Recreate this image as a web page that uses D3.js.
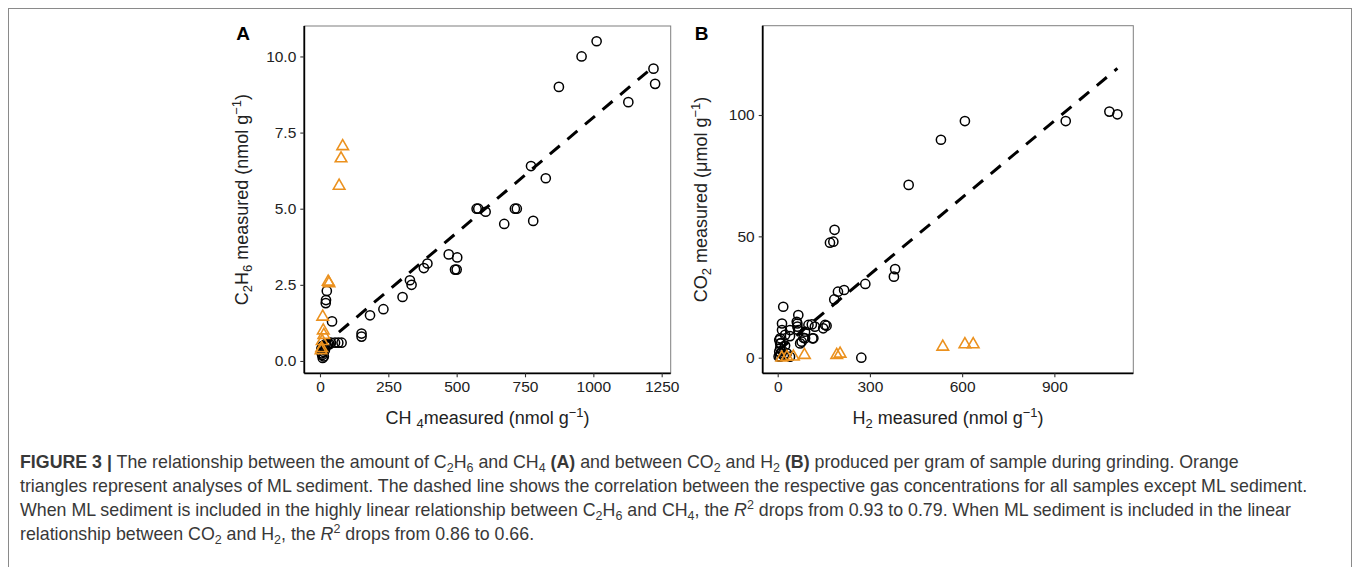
<!DOCTYPE html>
<html>
<head>
<meta charset="utf-8">
<script src="https://cdn.jsdelivr.net/npm/d3@7"></script>
<style>
  body { margin: 0; background: #fff; }
  text { font-family: "Liberation Sans", Arial, sans-serif; }
</style>
</head>
<body>
<svg id="mainsvg" width="1358" height="567"></svg>
<script>
// panel A: CH4 (x) vs C2H6 (y), pairs [x, y]
const aSamples = [
  [1012,10.5],[957,10.0],[1220,9.6],[1226,9.1],[874,9.0],[1128,8.5],[772,6.4],[826,6.0],
  [573,5.0],[579,5.0],[606,4.9],[713,5.0],[720,5.0],[674,4.5],[780,4.6],[471,3.5],[502,3.4],
  [494,3.0],[500,3.0],[380,3.05],[393,3.2],[329,2.65],[335,2.5],[302,2.1],[232,1.7],[183,1.5],
  [152,0.9],[152,0.8],[44,1.3],[55,0.6],[67,0.6],[79,0.6],[25,2.3],[22,2.0],[21,1.9],
  [10,0.5],[15,0.45],[20,0.55],[30,0.55],[40,0.6],[12,0.3],[8,0.2],[10,0.1],[14,0.15],
  [6,0.25],[18,0.35],[25,0.5],[35,0.55],[5,0.4]
];
const aSediment = [
  [83,7.05],[77,6.65],[70,5.75],[30,2.6],[33,2.55],[10,1.45],[12,1.0],[14,0.85],[8,0.65],[6,0.42],[4,0.35]
];
const aFit = [[5,0.46],[1226,9.71]];
const aXTicks = [0, 250, 500, 750, 1000, 1250];
const aYTicks = [0, 2.5, 5, 7.5, 10];

// panel B: H2 (x) vs CO2 (y)
const bSamples = [
  [1079,101.4],[1105,100.3],[937,97.5],[609,97.5],[531,89.8],[426,71.2],[185,52.7],[170,47.4],
  [181,47.8],[382,36.5],[378,33.4],[285,30.4],[216,27.9],[196,27.2],[184,24.0],[272,0],
  [18,21],[67,17.6],[62,14.8],[100,13.5],[121,12.8],[148,12.1],[154,13.5],[159,13.2],[111,13.7],
  [113,8],[89,10.7],[84,8.2],[73,5.9],[64,14.1],[64,12.8],[14,14.1],[14,11.4],[40,8.9],[5,7.3],
  [8,5.9],[24,9.4],[40,11.4],[67,11.4],[89,8],[78,6.6],[116,8],[8,8],[10,5.9],[8,3.9],[10,1.8],
  [8,0.4],[30,1.8],[40,0.4],[24,5],[3,0.5],[15,3],[20,0.8],[5,2.5]
];
const bSediment = [
  [537,4.5],[609,5.5],[636,5.5],[192,1.1],[203,1.6],[87,1.1],[51,0.4],[30,0.3],[13,0]
];
const bFit = [[3,3.0],[1105,119.2]];
const bXTicks = [0, 300, 600, 900];
const bYTicks = [0, 50, 100];

const svg = d3.select('#mainsvg');
const orange = '#EB911E';

// figure frame
svg.append('rect')
  .attr('x', 8.5).attr('y', 8.5).attr('width', 1343).attr('height', 600)
  .attr('fill', 'none').attr('stroke', '#8a8a8a').attr('stroke-width', 1);

// rich text: parts like {t}, {t, sub}, {t, sup}, {t, b}, {t, i}
function rich(t, parts, small, subDy, supDy) {
  let shift = 0;
  parts.forEach(p => {
    const s = t.append('tspan').text(p.t);
    let want = p.sub ? subDy : p.sup ? -supDy : 0;
    if (want !== shift) { s.attr('dy', want - shift); shift = want; }
    if (p.sub || p.sup) s.style('font-size', small);
    if (p.b) s.style('font-weight', 'bold');
    if (p.i) s.style('font-style', 'italic');
  });
}

function panel(cfg) {
  const g = svg.append('g');
  const x = d3.scaleLinear().domain(cfg.xDomain).range([cfg.left, cfg.right]);
  const y = d3.scaleLinear().domain(cfg.yDomain).range([cfg.bottom, cfg.top]);

  // panel border (top / right)
  g.append('rect')
    .attr('x', cfg.left).attr('y', cfg.top)
    .attr('width', cfg.right - cfg.left).attr('height', cfg.bottom - cfg.top)
    .attr('fill', 'none').attr('stroke', '#7f7f7f').attr('stroke-width', 1);

  const xAxis = g.append('g')
    .attr('transform', `translate(0, ${cfg.bottom})`)
    .call(d3.axisBottom(x).tickValues(cfg.xTicks).tickFormat(cfg.xFormat).tickSize(4).tickSizeOuter(0).tickPadding(4));
  const yAxis = g.append('g')
    .attr('transform', `translate(${cfg.left}, 0)`)
    .call(d3.axisLeft(y).tickValues(cfg.yTicks).tickFormat(cfg.yFormat).tickSize(4).tickSizeOuter(0).tickPadding(4));
  [xAxis, yAxis].forEach(a => {
    a.select('.domain').attr('stroke', '#000').attr('stroke-width', 1.8);
    a.selectAll('.tick line').attr('stroke', '#333').attr('stroke-width', 1.1);
    a.selectAll('.tick text').attr('fill', '#222').style('font-size', '15.5px')
      .style('font-family', '"Liberation Sans", Arial, sans-serif');
  });
  xAxis.select('.domain').attr('d', `M${cfg.left},0H${cfg.right}`);
  yAxis.select('.domain').attr('d', `M0,${cfg.bottom}V${cfg.top}`);

  // fit line
  g.append('path')
    .attr('d', d3.line().x(d => x(d[0])).y(d => y(d[1]))(cfg.fit))
    .attr('fill', 'none').attr('stroke', '#000').attr('stroke-width', 3)
    .attr('stroke-dasharray', '13,10');

  // samples
  g.selectAll('circle.pt').data(cfg.samples).join('circle')
    .attr('class', 'pt')
    .attr('cx', d => x(d[0])).attr('cy', d => y(d[1])).attr('r', 4.6)
    .attr('fill', 'none').attr('stroke', '#000').attr('stroke-width', 1.5);

  // ML sediment
  g.selectAll('path.tri').data(cfg.sediment).join('path')
    .attr('class', 'tri')
    .attr('d', d3.symbol(d3.symbolTriangle, 58))
    .attr('transform', d => `translate(${x(d[0])}, ${y(d[1])})`)
    .attr('fill', 'none').attr('stroke', orange).attr('stroke-width', 1.6);

  // panel letter
  g.append('text')
    .attr('x', cfg.left - 68).attr('y', 40)
    .style('font-size', '19px').style('font-weight', 'bold')
    .text(cfg.letter);

  const xt = g.append('text')
    .attr('x', (cfg.left + cfg.right) / 2).attr('y', 424)
    .attr('text-anchor', 'middle').attr('fill', '#222')
    .style('font-size', '18px');
  rich(xt, cfg.xTitle, '13px', 4, 7);

  const yt = g.append('text')
    .attr('transform', `translate(${cfg.left - 56}, ${(cfg.top + cfg.bottom) / 2}) rotate(-90)`)
    .attr('text-anchor', 'middle').attr('fill', '#222')
    .style('font-size', '18px');
  rich(yt, cfg.yTitle, '13px', 4, 7);
}

const perGram = [{t: ' (nmol g'}, {t: '\u22121', sup: 1}, {t: ')'}];

panel({
  letter: 'A',
  left: 304.3, right: 670.7, top: 26, bottom: 373.3,
  xDomain: [-57.4, 1283], yDomain: [-0.405, 11.0],
  xTicks: aXTicks, yTicks: aYTicks,
  xFormat: d3.format('d'), yFormat: d3.format('.1f'),
  samples: aSamples, sediment: aSediment, fit: aFit,
  xTitle: [{t: 'CH '}, {t: '4', sub: 1}, {t: 'measured'}, ...perGram],
  yTitle: [{t: 'C'}, {t: '2', sub: 1}, {t: 'H'}, {t: '6', sub: 1}, {t: ' measured'}, ...perGram]
});

panel({
  letter: 'B',
  left: 762.7, right: 1133.3, top: 25.7, bottom: 373.3,
  xDomain: [-48.8, 1156.8], yDomain: [-6.43, 136.8],
  xTicks: bXTicks, yTicks: bYTicks,
  xFormat: d3.format('d'), yFormat: d3.format('d'),
  samples: bSamples, sediment: bSediment, fit: bFit,
  xTitle: [{t: 'H'}, {t: '2', sub: 1}, {t: ' measured'}, ...perGram],
  yTitle: [{t: 'CO'}, {t: '2', sub: 1}, {t: ' measured (\u03bcmol g'}, {t: '\u22121', sup: 1}, {t: ')'}]
});

// caption
const cap = svg.append('g').style('font-size', '17.8px').attr('fill', '#383838');
function capLine(y, parts) {
  const t = cap.append('text').attr('x', 20).attr('y', y);
  rich(t, parts, '12.5px', 4, 7);
}
capLine(468, [
  {t: 'FIGURE 3 |', b: 1}, {t: ' The relationship between the amount of C'}, {t: '2', sub: 1}, {t: 'H'}, {t: '6', sub: 1},
  {t: ' and CH'}, {t: '4', sub: 1}, {t: ' '}, {t: '(A)', b: 1}, {t: ' and between CO'}, {t: '2', sub: 1}, {t: ' and H'}, {t: '2', sub: 1},
  {t: ' '}, {t: '(B)', b: 1}, {t: ' produced per gram of sample during grinding. Orange'}
]);
capLine(492, [
  {t: 'triangles represent analyses of ML sediment. The dashed line shows the correlation between the respective gas concentrations for all samples except ML sediment.'}
]);
capLine(516, [
  {t: 'When ML sediment is included in the highly linear relationship between C'}, {t: '2', sub: 1}, {t: 'H'}, {t: '6', sub: 1},
  {t: ' and CH'}, {t: '4', sub: 1}, {t: ', the '}, {t: 'R', i: 1}, {t: '2', sup: 1},
  {t: ' drops from 0.93 to 0.79. When ML sediment is included in the linear'}
]);
capLine(540, [
  {t: 'relationship between CO'}, {t: '2', sub: 1}, {t: ' and H'}, {t: '2', sub: 1}, {t: ', the '}, {t: 'R', i: 1}, {t: '2', sup: 1},
  {t: ' drops from 0.86 to 0.66.'}
]);
</script>
</body>
</html>
